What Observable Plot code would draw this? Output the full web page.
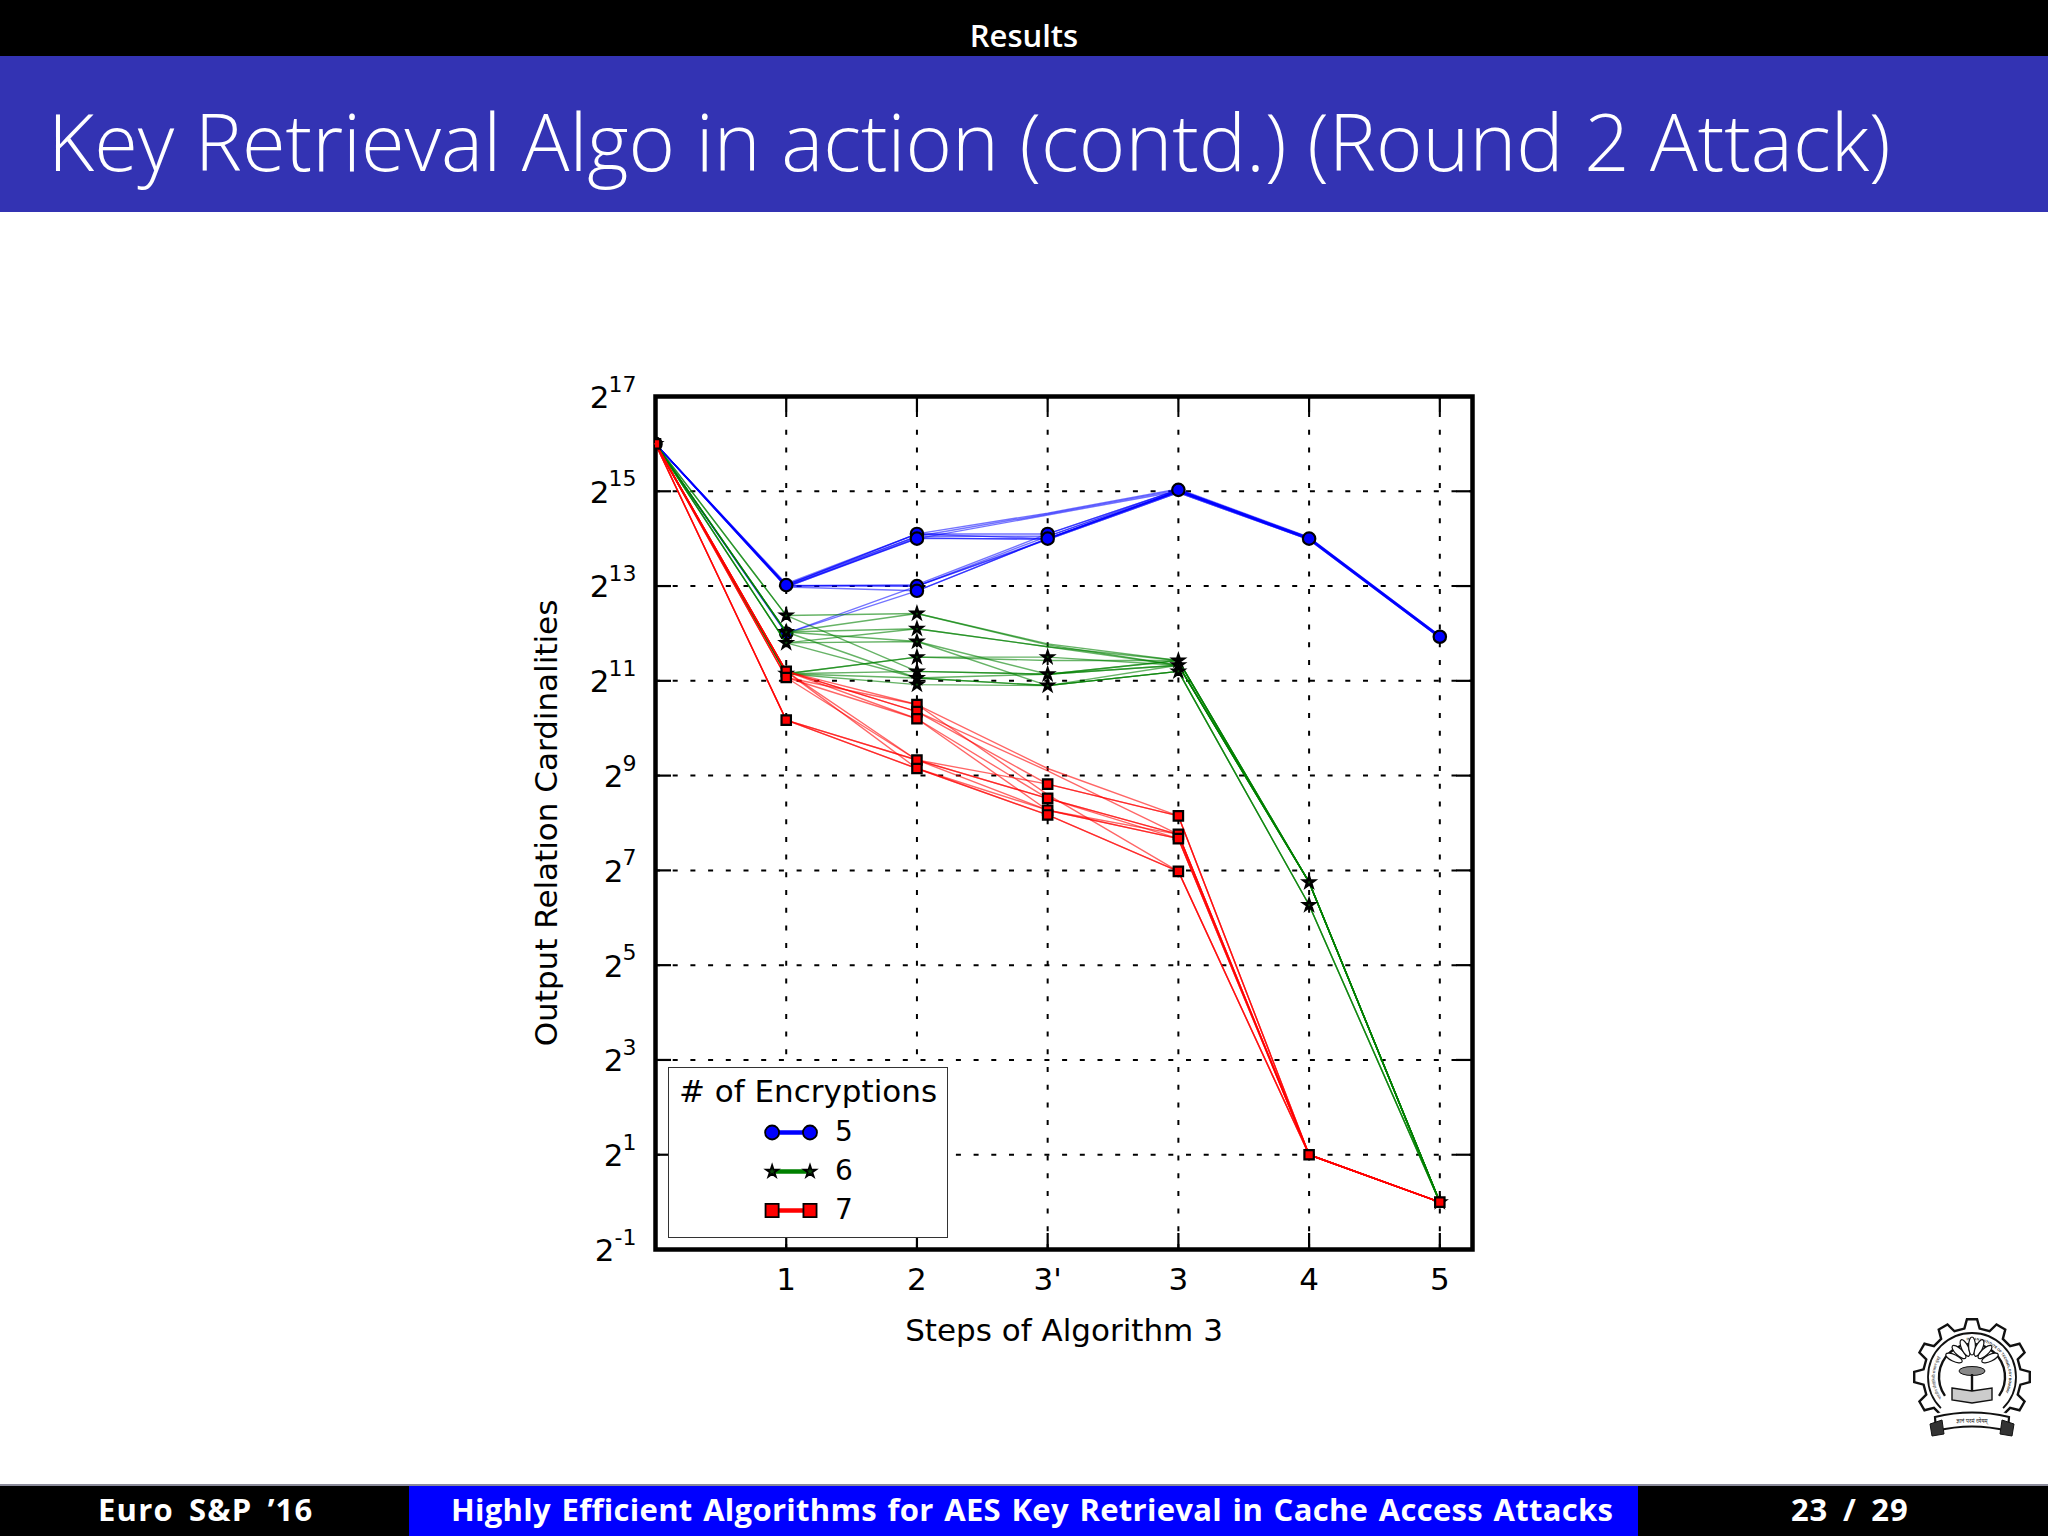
<!DOCTYPE html>
<html><head><meta charset="utf-8">
<script src="https://cdn.jsdelivr.net/npm/d3@7"></script>
<script src="https://cdn.jsdelivr.net/npm/@observablehq/plot@0.6"></script>
<style>
html,body{margin:0;padding:0;background:#fff;width:2048px;height:1536px;overflow:hidden}
.abs{position:absolute}
.cm{font-family:"Open Sans",sans-serif;color:#fff;white-space:nowrap}
.ft{top:1489px;font-size:31px;font-weight:700;line-height:40px}
#legend{position:absolute;left:668px;top:1067px;width:278px;height:169px;background:#fff;border:1.5px solid #333;font-family:"DejaVu Sans",sans-serif;color:#000}
</style></head><body>
<div class="abs" style="left:0;top:0;width:2048px;height:56px;background:#000"></div>
<div class="abs" style="left:0;top:56px;width:2048px;height:156px;background:#3333b3"></div>
<div class="abs cm" style="left:0;width:2048px;text-align:center;top:15px;font-size:31px;font-weight:600;line-height:40px">Results</div>
<div class="abs cm" id="title" style="left:48px;top:90px;font-size:79.4px;line-height:100px;font-weight:300">Key Retrieval Algo in action (contd.) (Round 2 Attack)</div>
<div class="abs" id="chart" style="left:0;top:212px"></div>
<div id="legend"></div>
<svg id="logo" class="abs" style="left:1890px;top:1310px" width="150" height="140" viewBox="0 0 150 140"></svg>
<div class="abs" style="left:0;top:1485px;width:2048px;height:51px;background:#000"></div>
<div class="abs" style="left:409px;top:1485px;width:1229px;height:51px;background:#0000ff"></div>
<div class="abs" style="left:0;top:1484px;width:2048px;height:2px;background:#8a8a9a"></div>
<div class="abs cm ft" style="left:98px;letter-spacing:1.2px;word-spacing:6px">Euro S&amp;P ’16</div>
<div class="abs cm ft" style="left:451px;letter-spacing:.3px;word-spacing:2.2px">Highly Efficient Algorithms for AES Key Retrieval in Cache Access Attacks</div>
<div class="abs cm ft" style="left:1791px;letter-spacing:.8px;word-spacing:6px">23 / 29</div>
<script>
// x axis categories (index = position along the axis)
const steps = ["", "1", "2", "3'", "3", "4", "5"];
const yExponents = [-1, 1, 3, 5, 7, 9, 11, 13, 15, 17];
const encryptions = ["5", "6", "7"];

// log2 of output relation cardinality per step: [start, 1, 2, 3', 3, 4, 5]
const bluePaths = [
  [16, 13.05, 14.1, 14.54, 15.05, 14.03, 11.95],
  [16, 13.03, 14.05, 14.52, 15.03, 14.02, 11.95],
  [16, 13, 14, 14.5, 15, 14, 11.93],
  [16, 13.02, 14.1, 14.1, 15.03, 14.02, 11.93],
  [16, 13, 14.05, 14.05, 15.03, 14, 11.93],
  [16, 12.98, 14, 14, 15, 13.98, 11.91],
  [16, 13.02, 14.1, 14, 15, 14, 11.91],
  [16, 12.98, 14.02, 13.98, 14.97, 13.98, 11.91],
  [16, 13, 13, 14, 15, 14, 11.93],
  [16, 13, 13.03, 14.1, 15.03, 14.02, 11.95],
  [16, 12.98, 12.9, 14, 15, 14, 11.93],
  [16, 13.02, 13, 13.98, 14.97, 13.98, 11.91],
  [16, 12, 12.9, 14, 15, 14, 11.93],
  [16, 12, 13, 14.05, 15, 14, 11.93]
];
const greenPaths = [
  [16, 12.38, 12.42, 11.78, 11.43, 6.75, 0],
  [16, 12.38, 11.2, 11.14, 11.33, 6.75, 0],
  [16, 12.03, 12.42, 11.76, 11.33, 6.75, 0],
  [16, 12.03, 12.1, 11.72, 11.43, 6.75, 0],
  [16, 12.03, 11.06, 10.9, 11.2, 6.27, 0],
  [16, 12.03, 11.83, 11.14, 11.33, 6.75, 0],
  [16, 11.8, 11.83, 10.9, 11.2, 6.27, 0],
  [16, 11.8, 12.1, 11.72, 11.33, 6.75, 0],
  [16, 11.8, 11.06, 11.14, 11.43, 6.75, 0],
  [16, 11.15, 11.5, 11.5, 11.33, 6.75, 0],
  [16, 11.15, 11.5, 11.43, 11.43, 6.75, 0],
  [16, 11.15, 11.2, 11.14, 11.43, 6.75, 0],
  [16, 11.15, 11.06, 10.9, 11.2, 6.27, 0],
  [16, 11.15, 10.92, 10.9, 11.33, 6.75, 0]
];
const redPaths = [
  [16, 11.2, 10.5, 9.15, 8.15, 1, 0],
  [16, 11.2, 10.35, 9.1, 7.76, 1, 0],
  [16, 11.2, 10.2, 8.52, 7.76, 1, 0],
  [16, 11.07, 10.2, 8.27, 7.67, 1, 0],
  [16, 11.2, 10.35, 8.82, 8.15, 1, 0],
  [16, 11.07, 10.5, 8.6, 6.98, 1, 0],
  [16, 11.2, 9.33, 8.52, 7.76, 1, 0],
  [16, 11.07, 9.33, 8.27, 7.76, 1, 0],
  [16, 11.2, 9.15, 8.17, 6.98, 1, 0],
  [16, 10.17, 9.33, 8.82, 8.15, 1, 0],
  [16, 10.17, 9.33, 8.52, 7.67, 1, 0],
  [16, 10.17, 9.15, 8.17, 6.98, 1, 0],
  [16, 10.17, 9.15, 8.27, 7.67, 1, 0]
];
// marker positions: log2 values at each step index
const blueMarkers = [[16], [13.02, 12], [14.1, 14, 13, 12.9], [14.1, 14], [15.03], [14], [11.93]];
const greenMarkers = [[16], [12.38, 12.03, 11.8, 11.15], [12.42, 12.1, 11.83, 11.5, 11.2, 11.06, 10.92], [11.5, 11.14, 10.9], [11.43, 11.33, 11.2], [6.75, 6.27], [0]];
const redMarkers = [[16], [11.2, 11.07, 10.17], [10.5, 10.35, 10.2, 9.33, 9.15], [8.82, 8.52, 8.27, 8.17], [8.15, 7.76, 7.67, 6.98], [1], [0]];

const rowsOf = (paths) => paths.flatMap((p, k) => p.map((v, i) => ({k, i, v: 2 ** v})));
const ptsOf = (ms) => ms.flatMap((vs, i) => vs.map((v) => ({i, v: 2 ** v})));
const W = 2048, H = 1273, ML = 655, MR = 576, MT = 184, MB = 236;
const PW = W - ML - MR, PH = H - MT - MB, TICK = 16;
const FONT = "DejaVu Sans";
const grid = {stroke: "#000", strokeWidth: 2, strokeDasharray: "5,12.7"};
const stepIdx = steps.map((_, i) => i).slice(1);
const lineMark = (paths, color, op, sw) => Plot.line(rowsOf(paths), {x: "i", y: "v", z: "k", stroke: color, strokeOpacity: op, strokeWidth: sw});
const yLab = (filter, baseDx) => Plot.text(yExponents.filter(filter), {y: (e) => 2 ** e, text: () => "2", frameAnchor: "left", textAnchor: "end", dx: baseDx, dy: 1.5, fontSize: 31, fill: "#000"});

const chart = Plot.plot({
  width: W, height: H,
  marginLeft: ML, marginRight: MR, marginTop: MT, marginBottom: MB,
  style: {background: "transparent", fontFamily: FONT},
  x: {domain: [0, 6.25], axis: null},
  y: {type: "log", base: 2, domain: [0.5, 2 ** 17], axis: null},
  marks: [
    Plot.ruleY(yExponents.slice(1, -1), {y: (e) => 2 ** e, x1: () => 0, x2: () => 6.25, ...grid}),
    Plot.ruleX(stepIdx, {x: (i) => i, y1: () => 0.5, y2: () => 2 ** 17, ...grid}),
    Plot.tickY(yExponents, {y: (e) => 2 ** e, insetRight: PW - TICK, stroke: "#000", strokeWidth: 2.2}),
    Plot.tickY(yExponents, {y: (e) => 2 ** e, insetLeft: PW - TICK, stroke: "#000", strokeWidth: 2.2}),
    Plot.tickX(stepIdx, {x: (i) => i, insetTop: PH - TICK, stroke: "#000", strokeWidth: 2.2}),
    Plot.tickX(stepIdx, {x: (i) => i, insetBottom: PH - TICK, stroke: "#000", strokeWidth: 2.2}),
    Plot.frame({stroke: "#000", strokeWidth: 4.5}),
    lineMark(bluePaths, "#0000ff", 0.55, 1.4),
    Plot.dot(ptsOf(blueMarkers), {x: "i", y: "v", r: 6.2, fill: "#0000ff", stroke: "#000", strokeWidth: 2.2, clip: true}),
    lineMark(greenPaths, "#008000", 0.6, 1.4),
    Plot.dot(ptsOf(greenMarkers), {x: "i", y: "v", symbol: "star", r: 3.4, fill: "#0b4a0b", stroke: "#000", strokeWidth: 2.4, clip: true}),
    lineMark(redPaths, "#ff0000", 0.6, 1.4),
    Plot.dot(ptsOf(redMarkers), {x: "i", y: "v", symbol: "square", r: 5.3, fill: "#ff0000", stroke: "#000", strokeWidth: 2.2, clip: true}),
    Plot.text(steps.slice(1), {x: (d, i) => i + 1, text: (d) => d, frameAnchor: "bottom", dy: 40, fontSize: 31, fill: "#000"}),
    yLab((e) => e >= 0 && e < 10, -32),
    yLab((e) => e >= 10, -46),
    yLab((e) => e < 0, -41),
    Plot.text(yExponents, {y: (e) => 2 ** e, text: (e) => String(e), frameAnchor: "left", textAnchor: "end", dx: -19, dy: -12, fontSize: 22, fill: "#000"}),
    Plot.text(["Steps of Algorithm 3"], {frameAnchor: "bottom", dy: 91, fontSize: 31, fill: "#000"}),
    Plot.text(["Output Relation Cardinalities"], {frameAnchor: "left", textAnchor: "middle", dx: -108, rotate: -90, fontSize: 31, fill: "#000"})
  ]
});
document.getElementById("chart").appendChild(chart);

// legend, built from the same colours and category names
const legendColors = ["#0000ff", "#008000", "#ff0000"];
const legendSymbols = ["circle", "star", "square"];
const legendFills = ["#0000ff", "#0b4a0b", "#ff0000"];
const lg = document.getElementById("legend");
const head = document.createElement("div");
head.textContent = "# of Encryptions";
head.style.cssText = "position:absolute;left:0;width:100%;text-align:center;top:3px;font-size:31px;line-height:40px";
lg.appendChild(head);
encryptions.forEach((label, i) => {
  const top = 49 + i * 39;
  const sw = Plot.plot({
    width: 80, height: 30, margin: 0, axis: null,
    style: {background: "transparent"},
    x: {domain: [0, 1], range: [14.6, 52.5], axis: null},
    y: {domain: [0, 1], range: [30, 0], axis: null},
    marks: [
      Plot.line([[0, .5], [1, .5]], {stroke: legendColors[i], strokeWidth: 4.5}),
      Plot.dot([[0, .5], [1, .5]], {symbol: legendSymbols[i], r: i === 1 ? 3.8 : i === 0 ? 7 : 7.4, fill: legendFills[i], stroke: "#000", strokeWidth: 1.8})
    ]
  });
  sw.style.cssText = "position:absolute;left:88px;top:" + top + "px;overflow:visible";
  lg.appendChild(sw);
  const t = document.createElement("div");
  t.textContent = label;
  t.style.cssText = "position:absolute;left:166px;top:" + (top - 5) + "px;font-size:28px;line-height:40px";
  lg.appendChild(t);
});

// institute emblem (decorative): gear, ring text, lotus, book, ribbon
const logo = d3.select("#logo");
const cx = 82, cy = 67, teeth = 12;
const polar = (deg, r) => [cx + r * Math.sin(deg * Math.PI / 180), cy - r * Math.cos(deg * Math.PI / 180)];
const gearPts = d3.range(teeth).flatMap((k) => {
  const a = k * 30;
  return [polar(a - 9, 49), polar(a - 5, 58), polar(a + 5, 58), polar(a + 9, 49)];
});
logo.append("path").attr("d", "M" + gearPts.join("L") + "Z").attr("fill", "#fff").attr("stroke", "#111").attr("stroke-width", 2.4);
const arc = (r, from, to) => { const a = polar(from, r), b = polar(to, r); return `M${a}A${r} ${r} 0 ${to - from > 180 ? 1 : 0} 1 ${b}`; };
logo.append("path").attr("d", arc(44, -135, 135)).attr("fill", "none").attr("stroke", "#111").attr("stroke-width", 1.8);
logo.append("path").attr("d", arc(33, -125, 125)).attr("fill", "none").attr("stroke", "#111").attr("stroke-width", 2.4);
logo.append("defs").call((d) => {
  d.append("path").attr("id", "ringR").attr("d", arc(37, -8, 135));
  d.append("path").attr("id", "ringL").attr("d", arc(37, -125, -12));
});
logo.append("text").attr("font-family", "Liberation Sans").attr("font-size", 3.5).attr("font-weight", 700).attr("fill", "#222")
  .append("textPath").attr("href", "#ringR").text("INDIAN INSTITUTE OF TECHNOLOGY BOMBAY");
logo.append("text").attr("font-family", "Noto Sans").attr("font-size", 3.8).attr("fill", "#222")
  .append("textPath").attr("href", "#ringL").text("भारतीय प्रौद्योगिकी संस्थान मुंबई");
[[-18, 1], [-13, -5], [-7, -9], [0, -11], [7, -9], [13, -5], [18, 1]].forEach(([dx, dy]) => {
  const px = cx + dx, py = 47 + dy;
  logo.append("ellipse").attr("cx", px).attr("cy", py).attr("rx", 3.4).attr("ry", 9)
    .attr("transform", `rotate(${dx * 3.6} ${px} ${py})`)
    .attr("fill", "#fff").attr("stroke", "#111").attr("stroke-width", 1.2);
});
logo.append("ellipse").attr("cx", cx).attr("cy", 61).attr("rx", 13).attr("ry", 4.5).attr("fill", "#888").attr("stroke", "#111");
logo.append("rect").attr("x", cx - 1.2).attr("y", 64).attr("width", 2.4).attr("height", 22).attr("fill", "#111");
logo.append("path").attr("d", `M${cx - 20} 78L${cx} 81L${cx + 20} 78V90L${cx} 93L${cx - 20} 90Z`).attr("fill", "#ccc").attr("stroke", "#111").attr("stroke-width", 1.4);
// white block hides the gear's lower teeth behind the ribbon
logo.append("path").attr("d", `M44 104Q82 96 120 104V135H44Z`).attr("fill", "#fff");
logo.append("path").attr("d", `M45 107Q82 98 119 107L118 121Q82 112 46 121Z`).attr("fill", "#fff").attr("stroke", "#111").attr("stroke-width", 2.2);
logo.append("path").attr("d", `M40 114L52 110L54 124L42 126Z M124 114L112 110L110 124L122 126Z`).attr("fill", "#333").attr("stroke", "#111");
logo.append("text").attr("x", 82).attr("y", 113).attr("text-anchor", "middle").attr("font-size", 5.5).attr("font-family", "Noto Sans").attr("fill", "#222").text("ज्ञानं परमं ध्येयम्");
</script>
</body></html>
